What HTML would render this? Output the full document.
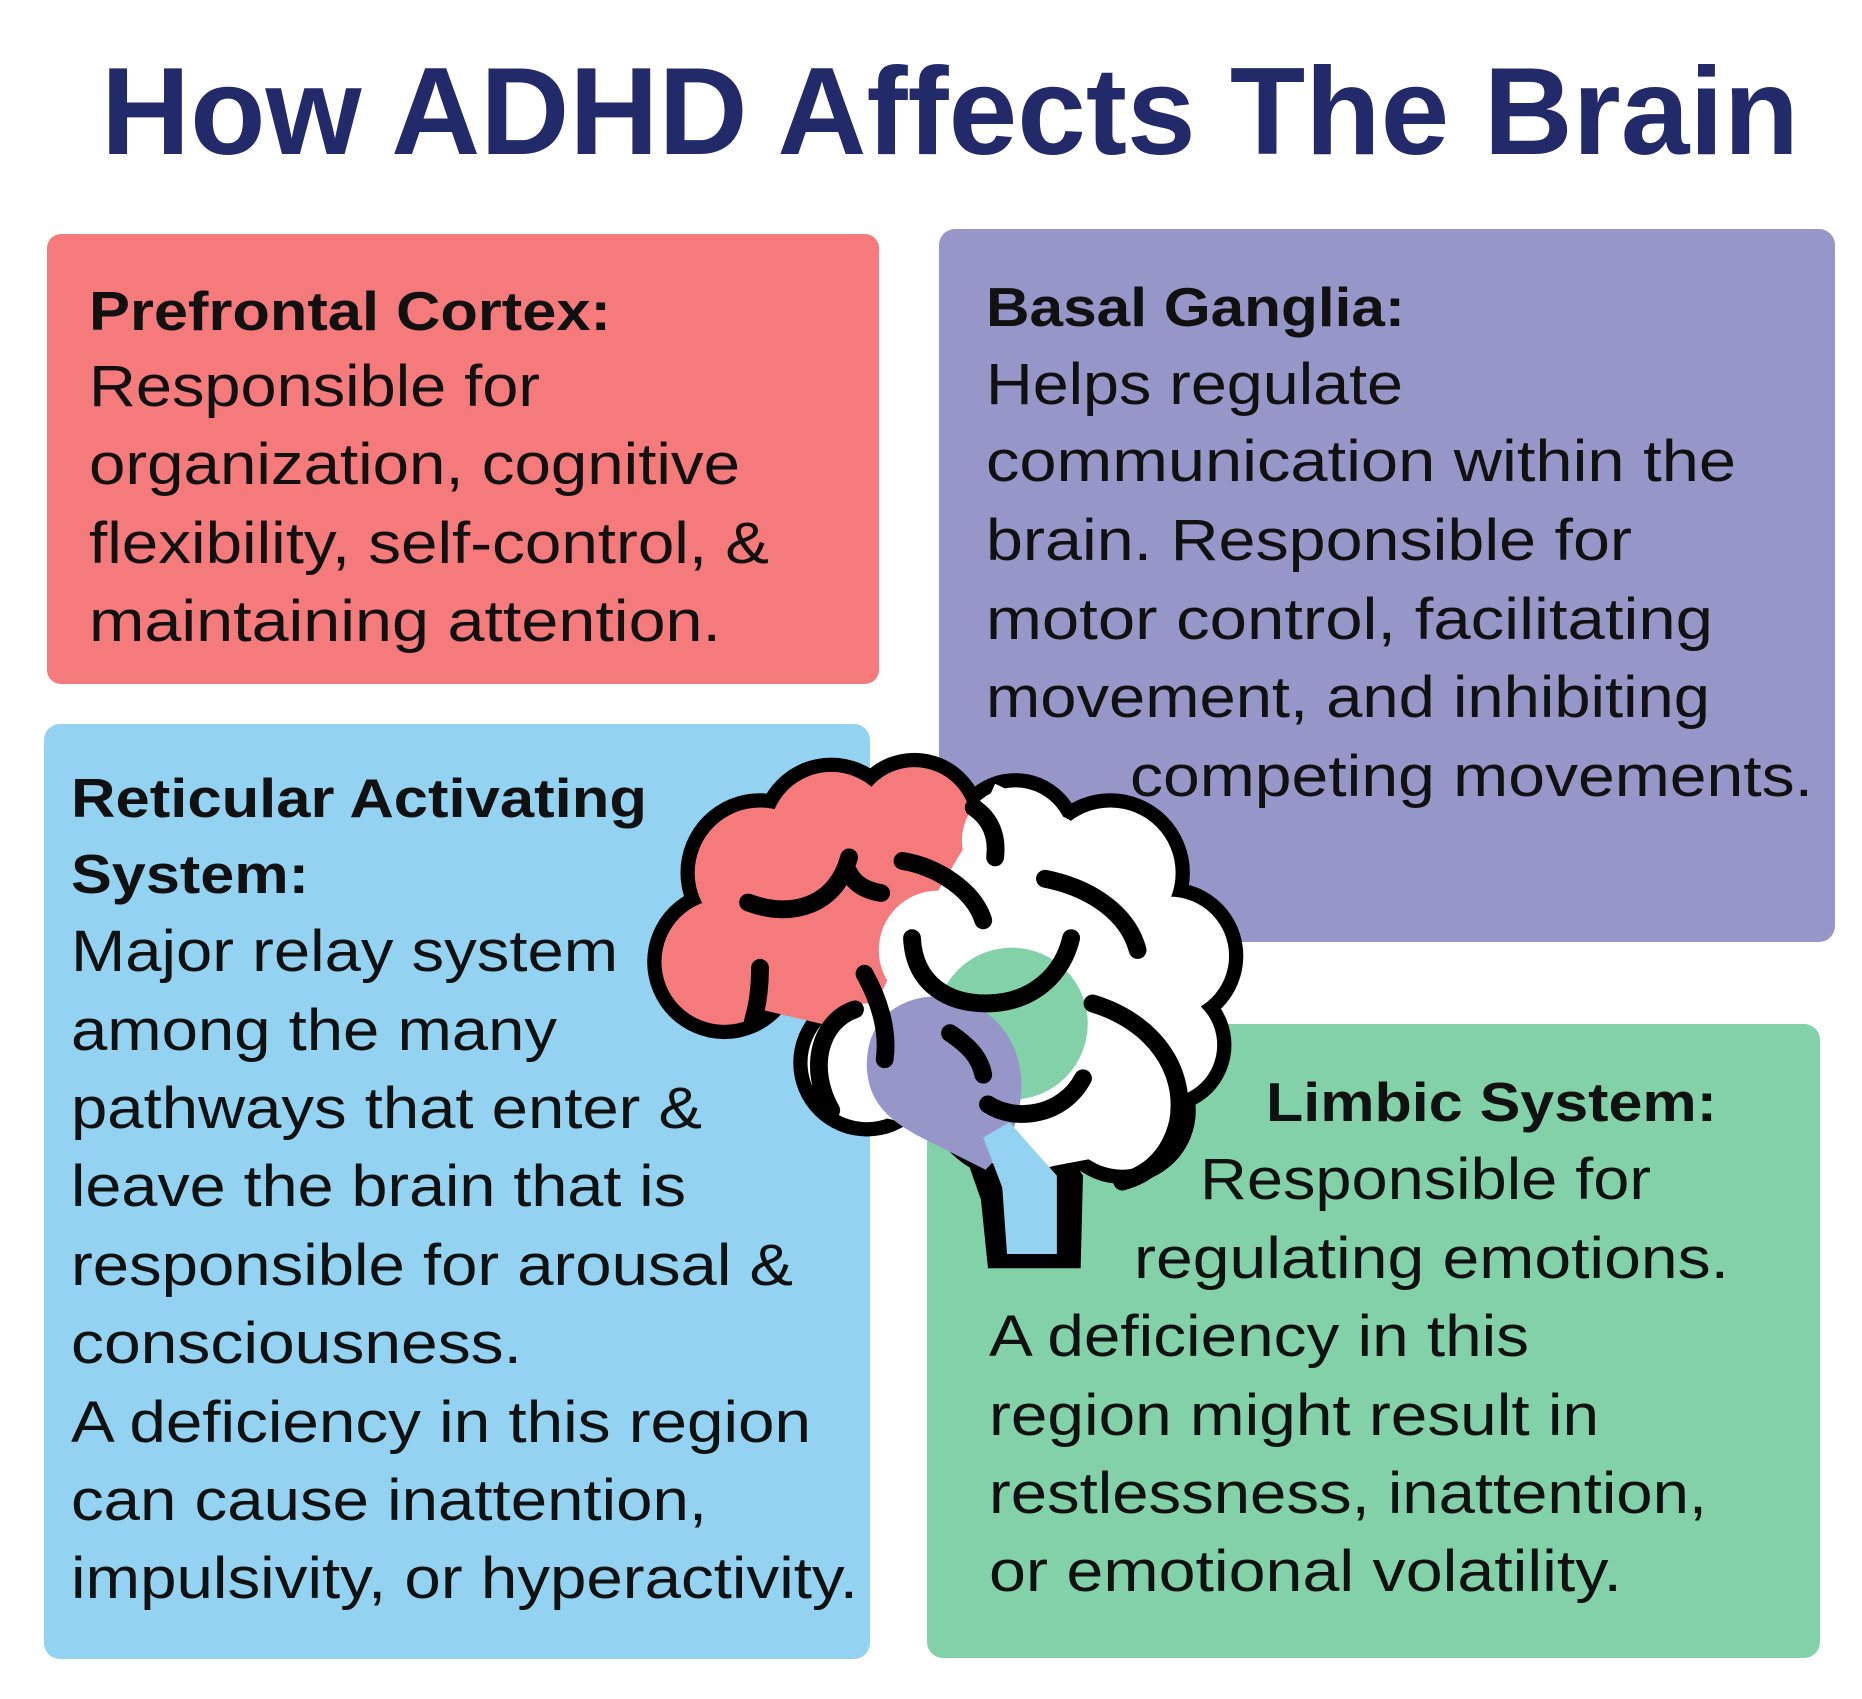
<!DOCTYPE html>
<html><head><meta charset="utf-8"><style>
html,body{margin:0;padding:0;background:#fff;}
svg{display:block;}
text{font-family:"Liberation Sans",Arial,sans-serif;fill:#111;}
</style></head><body>
<svg width="1862" height="1699" viewBox="0 0 1862 1699" xmlns="http://www.w3.org/2000/svg">
<text x="101" y="154" font-size="124" font-weight="bold" style="fill:#232a6a" textLength="1698" lengthAdjust="spacingAndGlyphs">How ADHD Affects The Brain</text>

<rect x="47" y="234" width="832" height="450" rx="14" fill="#f47a7b"/>
<rect x="939" y="229" width="896" height="713" rx="16" fill="#9796c9"/>
<rect x="44" y="724" width="826" height="935" rx="16" fill="#93d2f0"/>
<rect x="927" y="1024" width="893" height="634" rx="16" fill="#82d1a8"/>

<g font-size="58">
<text x="89" y="330" font-weight="bold" font-size="55" textLength="522" lengthAdjust="spacingAndGlyphs">Prefrontal Cortex:</text>
<text x="89" y="406" textLength="451" lengthAdjust="spacingAndGlyphs">Responsible for</text>
<text x="89" y="484" textLength="651" lengthAdjust="spacingAndGlyphs">organization, cognitive</text>
<text x="89" y="563" textLength="680" lengthAdjust="spacingAndGlyphs">flexibility, self-control, &amp;</text>
<text x="89" y="641" textLength="632" lengthAdjust="spacingAndGlyphs">maintaining attention.</text>

<text x="986" y="326" font-weight="bold" font-size="55" textLength="419" lengthAdjust="spacingAndGlyphs">Basal Ganglia:</text>
<text x="986" y="404" textLength="417" lengthAdjust="spacingAndGlyphs">Helps regulate</text>
<text x="986" y="481" textLength="750" lengthAdjust="spacingAndGlyphs">communication within the</text>
<text x="986" y="560" textLength="646" lengthAdjust="spacingAndGlyphs">brain.  Responsible for</text>
<text x="986" y="639" textLength="727" lengthAdjust="spacingAndGlyphs">motor control, facilitating</text>
<text x="986" y="717" textLength="724" lengthAdjust="spacingAndGlyphs">movement, and inhibiting</text>
<text x="1130" y="796" textLength="683" lengthAdjust="spacingAndGlyphs">competing movements.</text>

<text x="71" y="817" font-weight="bold" font-size="55" textLength="576" lengthAdjust="spacingAndGlyphs">Reticular Activating</text>
<text x="71" y="893" font-weight="bold" font-size="55" textLength="238" lengthAdjust="spacingAndGlyphs">System:</text>
<text x="71" y="971" textLength="547" lengthAdjust="spacingAndGlyphs">Major relay system</text>
<text x="71" y="1050" textLength="486" lengthAdjust="spacingAndGlyphs">among the many</text>
<text x="71" y="1128" textLength="631" lengthAdjust="spacingAndGlyphs">pathways that enter &amp;</text>
<text x="71" y="1206" textLength="615" lengthAdjust="spacingAndGlyphs">leave the brain that is</text>
<text x="71" y="1285" textLength="722" lengthAdjust="spacingAndGlyphs">responsible for arousal &amp;</text>
<text x="71" y="1363" textLength="451" lengthAdjust="spacingAndGlyphs">consciousness.</text>
<text x="71" y="1442" textLength="740" lengthAdjust="spacingAndGlyphs">A deficiency in this region</text>
<text x="71" y="1520" textLength="636" lengthAdjust="spacingAndGlyphs">can cause inattention,</text>
<text x="71" y="1598" textLength="787" lengthAdjust="spacingAndGlyphs">impulsivity, or hyperactivity.</text>

<text x="1266" y="1121" font-weight="bold" font-size="55" textLength="451" lengthAdjust="spacingAndGlyphs">Limbic System:</text>
<text x="1200" y="1199" textLength="451" lengthAdjust="spacingAndGlyphs">Responsible for</text>
<text x="1134" y="1278" textLength="595" lengthAdjust="spacingAndGlyphs">regulating emotions.</text>
<text x="989" y="1356" textLength="540" lengthAdjust="spacingAndGlyphs">A deficiency in this</text>
<text x="989" y="1435" textLength="610" lengthAdjust="spacingAndGlyphs">region might result in</text>
<text x="989" y="1513" textLength="718" lengthAdjust="spacingAndGlyphs">restlessness, inattention,</text>
<text x="989" y="1591" textLength="633" lengthAdjust="spacingAndGlyphs">or emotional volatility.</text>
</g>

<!-- brain (in display coords, scaled) -->
<g transform="scale(1.1875)">
  <g fill="#000">
    <circle cx="640" cy="735" r="67"/><circle cx="610" cy="810" r="65"/>
    <circle cx="700" cy="702" r="64"/><circle cx="770" cy="694" r="60"/>
    <circle cx="680" cy="790" r="65"/>
    <circle cx="855" cy="708" r="57"/><circle cx="935" cy="735" r="67"/>
    <circle cx="985" cy="805" r="62"/><circle cx="980" cy="880" r="57"/>
    <circle cx="945" cy="935" r="62"/><circle cx="865" cy="905" r="92"/>
    <circle cx="730" cy="895" r="62"/><circle cx="790" cy="800" r="62"/>
    <polygon points="805,950 880,940 912,990 910,1068 832,1068 826,1010"/>
  </g>
  <g fill="#f47a7b">
    <circle cx="640" cy="735" r="55"/><circle cx="610" cy="810" r="53"/>
    <circle cx="700" cy="702" r="52"/><circle cx="770" cy="694" r="48"/>
    <circle cx="680" cy="790" r="53"/>
    <polygon points="600,720 700,680 800,660 820,700 760,800 725,870 640,850 600,820"/>
  </g>
  <g fill="#fff">
    <circle cx="855" cy="708" r="45"/><circle cx="935" cy="735" r="55"/>
    <circle cx="985" cy="805" r="50"/><circle cx="980" cy="880" r="45"/>
    <circle cx="945" cy="935" r="50"/><circle cx="865" cy="905" r="80"/>
    <circle cx="730" cy="895" r="50"/><circle cx="790" cy="800" r="50"/>
    <polygon points="838,660 900,690 980,750 1000,830 990,900 950,970 870,985 780,950 700,930 690,880 725,870 760,800 820,700"/>
  </g>
  <circle cx="852" cy="862" r="64" fill="#82d1a8"/>
  <path d="M730,900 C728,850 770,835 800,840 C840,848 862,880 860,920 C858,950 845,970 830,985 L780,960 C750,945 732,930 730,900 Z" fill="#9796c9"/>
  <polygon points="828,958 850,945 890,990 890,1056 848,1056 844,1000" fill="#93d2f0"/>
  <g fill="none" stroke="#000" stroke-width="15" stroke-linecap="round">
    <path d="M630,760 C670,775 705,760 715,722"/>
    <path d="M715,735 C720,745 730,750 742,752"/>
    <path d="M640,815 C640,835 637,850 634,860"/>
    <path d="M760,725 C790,730 820,750 828,775"/>
    <path d="M820,680 C835,690 840,705 838,722"/>
    <path d="M880,740 C920,748 950,770 958,800"/>
    <path d="M768,790 C770,830 800,845 830,845 C870,845 895,820 902,790"/>
    <path d="M728,820 C742,845 748,870 745,892"/>
    <path d="M800,870 C815,880 825,890 828,905"/>
    <path d="M920,845 C970,860 1000,900 992,945 C985,975 965,990 945,995"/>
    <path d="M832,930 C855,945 895,940 912,908"/>
    <path d="M720,850 C690,860 680,900 700,935"/>
  </g>
</g>
</svg>
</body></html>
